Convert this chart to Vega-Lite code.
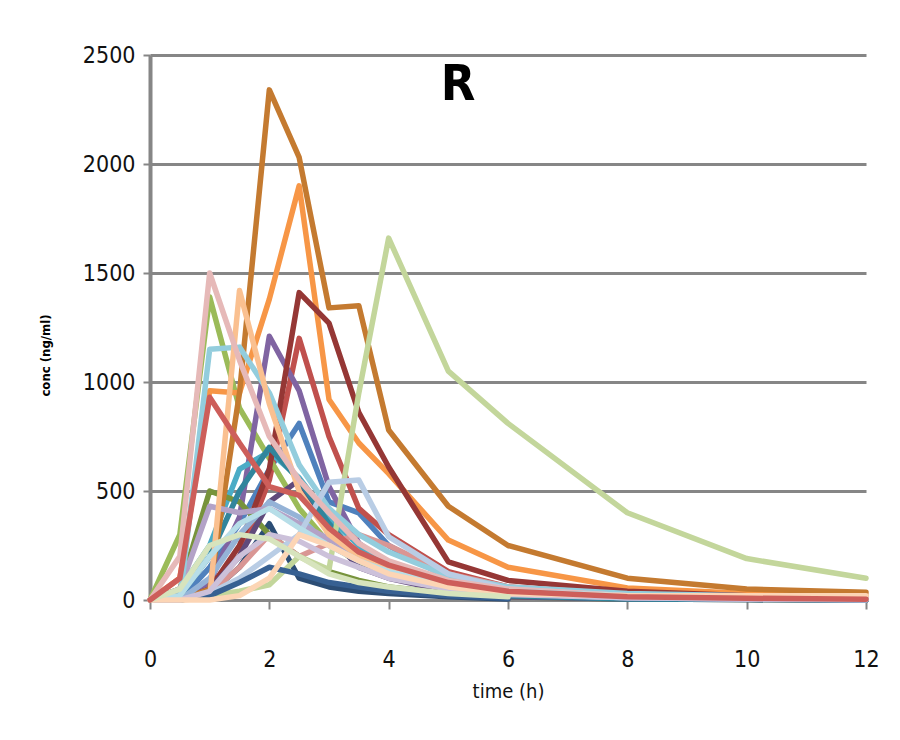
{
  "$schema": "https://vega.github.io/schema/vega-lite/v6.json",
  "width": 716,
  "height": 545,
  "autosize": {"type": "none"},
  "padding": {"left": 150, "top": 55, "right": 34, "bottom": 140},
  "background": "white",
  "title": {"text": "R", "fontSize": 50, "fontWeight": "bold", "font": "DejaVu Sans Condensed", "color": "#000000", "anchor": "middle", "dx": -50, "dy": 106, "offset": 0, "baseline": "alphabetic"},
  "config": {"view": {"stroke": null}},
  "data": {"values": [
{"s":"s01","t":0,"c":0},{"s":"s01","t":0.5,"c":0},{"s":"s01","t":1,"c":150},{"s":"s01","t":1.5,"c":350},{"s":"s01","t":2,"c":600},{"s":"s01","t":2.5,"c":810},{"s":"s01","t":3,"c":450},{"s":"s01","t":3.5,"c":400},{"s":"s01","t":4,"c":250},{"s":"s01","t":5,"c":100},{"s":"s01","t":6,"c":40},{"s":"s01","t":8,"c":15},{"s":"s01","t":10,"c":5},{"s":"s01","t":12,"c":0},
{"s":"s02","t":0,"c":0},{"s":"s02","t":0.5,"c":0},{"s":"s02","t":1,"c":50},{"s":"s02","t":1.5,"c":200},{"s":"s02","t":2,"c":550},{"s":"s02","t":2.5,"c":1200},{"s":"s02","t":3,"c":750},{"s":"s02","t":3.5,"c":420},{"s":"s02","t":4,"c":300},{"s":"s02","t":5,"c":130},{"s":"s02","t":6,"c":60},{"s":"s02","t":8,"c":20},{"s":"s02","t":10,"c":8},{"s":"s02","t":12,"c":4},
{"s":"s03","t":0,"c":0},{"s":"s03","t":0.5,"c":300},{"s":"s03","t":1,"c":1390},{"s":"s03","t":1.5,"c":880},{"s":"s03","t":2,"c":650},{"s":"s03","t":2.5,"c":420},{"s":"s03","t":3,"c":260},{"s":"s03","t":3.5,"c":170},{"s":"s03","t":4,"c":110},{"s":"s03","t":5,"c":50},{"s":"s03","t":6,"c":25},{"s":"s03","t":8,"c":10},{"s":"s03","t":10,"c":5},{"s":"s03","t":12,"c":2},
{"s":"s04","t":0,"c":0},{"s":"s04","t":0.5,"c":0},{"s":"s04","t":1,"c":80},{"s":"s04","t":1.5,"c":380},{"s":"s04","t":2,"c":1210},{"s":"s04","t":2.5,"c":960},{"s":"s04","t":3,"c":520},{"s":"s04","t":3.5,"c":260},{"s":"s04","t":4,"c":160},{"s":"s04","t":5,"c":70},{"s":"s04","t":6,"c":30},{"s":"s04","t":8,"c":10},{"s":"s04","t":10,"c":5},{"s":"s04","t":12,"c":2},
{"s":"s05","t":0,"c":0},{"s":"s05","t":0.5,"c":50},{"s":"s05","t":1,"c":250},{"s":"s05","t":1.5,"c":600},{"s":"s05","t":2,"c":680},{"s":"s05","t":2.5,"c":560},{"s":"s05","t":3,"c":380},{"s":"s05","t":3.5,"c":250},{"s":"s05","t":4,"c":150},{"s":"s05","t":5,"c":60},{"s":"s05","t":6,"c":25},{"s":"s05","t":8,"c":10},{"s":"s05","t":10,"c":5},{"s":"s05","t":12,"c":2},
{"s":"s06","t":0,"c":0},{"s":"s06","t":0.5,"c":100},{"s":"s06","t":1,"c":960},{"s":"s06","t":1.5,"c":950},{"s":"s06","t":2,"c":1380},{"s":"s06","t":2.5,"c":1900},{"s":"s06","t":3,"c":920},{"s":"s06","t":3.5,"c":720},{"s":"s06","t":4,"c":580},{"s":"s06","t":5,"c":275},{"s":"s06","t":6,"c":150},{"s":"s06","t":8,"c":55},{"s":"s06","t":10,"c":30},{"s":"s06","t":12,"c":20},
{"s":"s07","t":0,"c":0},{"s":"s07","t":0.5,"c":0},{"s":"s07","t":1,"c":30},{"s":"s07","t":1.5,"c":150},{"s":"s07","t":2,"c":350},{"s":"s07","t":2.5,"c":100},{"s":"s07","t":3,"c":60},{"s":"s07","t":3.5,"c":40},{"s":"s07","t":4,"c":30},{"s":"s07","t":5,"c":15},{"s":"s07","t":6,"c":5},
{"s":"s08","t":0,"c":0},{"s":"s08","t":0.5,"c":0},{"s":"s08","t":1,"c":50},{"s":"s08","t":1.5,"c":250},{"s":"s08","t":2,"c":600},{"s":"s08","t":2.5,"c":1410},{"s":"s08","t":3,"c":1270},{"s":"s08","t":3.5,"c":860},{"s":"s08","t":4,"c":610},{"s":"s08","t":5,"c":175},{"s":"s08","t":6,"c":90},{"s":"s08","t":8,"c":40},{"s":"s08","t":10,"c":20},{"s":"s08","t":12,"c":10},
{"s":"s09","t":0,"c":0},{"s":"s09","t":0.5,"c":50},{"s":"s09","t":1,"c":500},{"s":"s09","t":1.5,"c":450},{"s":"s09","t":2,"c":300},{"s":"s09","t":2.5,"c":200},{"s":"s09","t":3,"c":130},{"s":"s09","t":3.5,"c":90},{"s":"s09","t":4,"c":60},{"s":"s09","t":5,"c":30},{"s":"s09","t":6,"c":15},{"s":"s09","t":8,"c":5},{"s":"s09","t":10,"c":2},{"s":"s09","t":12,"c":0},
{"s":"s10","t":0,"c":0},{"s":"s10","t":0.5,"c":0},{"s":"s10","t":1,"c":50},{"s":"s10","t":1.5,"c":200},{"s":"s10","t":2,"c":450},{"s":"s10","t":2.5,"c":550},{"s":"s10","t":3,"c":300},{"s":"s10","t":3.5,"c":150},{"s":"s10","t":4,"c":100},{"s":"s10","t":5,"c":40},{"s":"s10","t":6,"c":15},{"s":"s10","t":8,"c":5},{"s":"s10","t":10,"c":2},{"s":"s10","t":12,"c":0},
{"s":"s11","t":0,"c":0},{"s":"s11","t":0.5,"c":20},{"s":"s11","t":1,"c":200},{"s":"s11","t":1.5,"c":500},{"s":"s11","t":2,"c":700},{"s":"s11","t":2.5,"c":550},{"s":"s11","t":3,"c":350},{"s":"s11","t":3.5,"c":200},{"s":"s11","t":4,"c":120},{"s":"s11","t":5,"c":50},{"s":"s11","t":6,"c":20},{"s":"s11","t":8,"c":5},{"s":"s11","t":10,"c":2},{"s":"s11","t":12,"c":0},
{"s":"s12","t":0,"c":0},{"s":"s12","t":0.5,"c":0},{"s":"s12","t":1,"c":50},{"s":"s12","t":1.5,"c":950},{"s":"s12","t":2,"c":2340},{"s":"s12","t":2.5,"c":2030},{"s":"s12","t":3,"c":1340},{"s":"s12","t":3.5,"c":1350},{"s":"s12","t":4,"c":780},{"s":"s12","t":5,"c":430},{"s":"s12","t":6,"c":250},{"s":"s12","t":8,"c":100},{"s":"s12","t":10,"c":50},{"s":"s12","t":12,"c":35},
{"s":"s13","t":0,"c":0},{"s":"s13","t":0.5,"c":0},{"s":"s13","t":1,"c":100},{"s":"s13","t":1.5,"c":300},{"s":"s13","t":2,"c":450},{"s":"s13","t":2.5,"c":380},{"s":"s13","t":3,"c":250},{"s":"s13","t":3.5,"c":180},{"s":"s13","t":4,"c":120},{"s":"s13","t":5,"c":60},{"s":"s13","t":6,"c":30},{"s":"s13","t":8,"c":10},{"s":"s13","t":10,"c":5},{"s":"s13","t":12,"c":0},
{"s":"s14","t":0,"c":0},{"s":"s14","t":0.5,"c":0},{"s":"s14","t":1,"c":30},{"s":"s14","t":1.5,"c":150},{"s":"s14","t":2,"c":300},{"s":"s14","t":2.5,"c":200},{"s":"s14","t":3,"c":260},{"s":"s14","t":3.5,"c":300},{"s":"s14","t":4,"c":250},{"s":"s14","t":5,"c":120},{"s":"s14","t":6,"c":60},{"s":"s14","t":8,"c":25},{"s":"s14","t":10,"c":10},{"s":"s14","t":12,"c":5},
{"s":"s15","t":0,"c":0},{"s":"s15","t":0.5,"c":0},{"s":"s15","t":1,"c":20},{"s":"s15","t":1.5,"c":40},{"s":"s15","t":2,"c":70},{"s":"s15","t":2.5,"c":200},{"s":"s15","t":3,"c":140},{"s":"s15","t":3.5,"c":950},{"s":"s15","t":4,"c":1660},{"s":"s15","t":5,"c":1050},{"s":"s15","t":6,"c":810},{"s":"s15","t":8,"c":400},{"s":"s15","t":10,"c":190},{"s":"s15","t":12,"c":100},
{"s":"s16","t":0,"c":0},{"s":"s16","t":0.5,"c":50},{"s":"s16","t":1,"c":430},{"s":"s16","t":1.5,"c":400},{"s":"s16","t":2,"c":420},{"s":"s16","t":2.5,"c":350},{"s":"s16","t":3,"c":280},{"s":"s16","t":3.5,"c":200},{"s":"s16","t":4,"c":130},{"s":"s16","t":5,"c":60},{"s":"s16","t":6,"c":30},{"s":"s16","t":8,"c":10},{"s":"s16","t":10,"c":5},{"s":"s16","t":12,"c":2},
{"s":"s17","t":0,"c":0},{"s":"s17","t":0.5,"c":0},{"s":"s17","t":1,"c":1150},{"s":"s17","t":1.5,"c":1160},{"s":"s17","t":2,"c":950},{"s":"s17","t":2.5,"c":620},{"s":"s17","t":3,"c":420},{"s":"s17","t":3.5,"c":300},{"s":"s17","t":4,"c":220},{"s":"s17","t":5,"c":110},{"s":"s17","t":6,"c":60},{"s":"s17","t":8,"c":30},{"s":"s17","t":10,"c":20},{"s":"s17","t":12,"c":10},
{"s":"s18","t":0,"c":0},{"s":"s18","t":0.5,"c":0},{"s":"s18","t":1,"c":10},{"s":"s18","t":1.5,"c":1420},{"s":"s18","t":2,"c":900},{"s":"s18","t":2.5,"c":500},{"s":"s18","t":3,"c":300},{"s":"s18","t":3.5,"c":200},{"s":"s18","t":4,"c":150},{"s":"s18","t":5,"c":70},{"s":"s18","t":6,"c":35},{"s":"s18","t":8,"c":20},{"s":"s18","t":10,"c":15},{"s":"s18","t":12,"c":15},
{"s":"s19","t":0,"c":0},{"s":"s19","t":0.5,"c":0},{"s":"s19","t":1,"c":30},{"s":"s19","t":1.5,"c":100},{"s":"s19","t":2,"c":200},{"s":"s19","t":2.5,"c":300},{"s":"s19","t":3,"c":540},{"s":"s19","t":3.5,"c":550},{"s":"s19","t":4,"c":290},{"s":"s19","t":5,"c":120},{"s":"s19","t":6,"c":50},{"s":"s19","t":8,"c":20},{"s":"s19","t":10,"c":10},{"s":"s19","t":12,"c":5},
{"s":"s20","t":0,"c":0},{"s":"s20","t":0.5,"c":200},{"s":"s20","t":1,"c":1500},{"s":"s20","t":1.5,"c":1100},{"s":"s20","t":2,"c":750},{"s":"s20","t":2.5,"c":550},{"s":"s20","t":3,"c":400},{"s":"s20","t":3.5,"c":260},{"s":"s20","t":4,"c":180},{"s":"s20","t":5,"c":90},{"s":"s20","t":6,"c":50},{"s":"s20","t":8,"c":20},{"s":"s20","t":10,"c":10},{"s":"s20","t":12,"c":5},
{"s":"s21","t":0,"c":0},{"s":"s21","t":0.5,"c":0},{"s":"s21","t":1,"c":20},{"s":"s21","t":1.5,"c":80},{"s":"s21","t":2,"c":150},{"s":"s21","t":2.5,"c":120},{"s":"s21","t":3,"c":80},{"s":"s21","t":3.5,"c":60},{"s":"s21","t":4,"c":40},{"s":"s21","t":5,"c":20},{"s":"s21","t":6,"c":8},
{"s":"s22","t":0,"c":0},{"s":"s22","t":0.5,"c":0},{"s":"s22","t":1,"c":40},{"s":"s22","t":1.5,"c":200},{"s":"s22","t":2,"c":300},{"s":"s22","t":2.5,"c":270},{"s":"s22","t":3,"c":200},{"s":"s22","t":3.5,"c":150},{"s":"s22","t":4,"c":100},{"s":"s22","t":5,"c":50},{"s":"s22","t":6,"c":25},{"s":"s22","t":8,"c":10},{"s":"s22","t":10,"c":5},{"s":"s22","t":12,"c":2},
{"s":"s23","t":0,"c":0},{"s":"s23","t":0.5,"c":20},{"s":"s23","t":1,"c":200},{"s":"s23","t":1.5,"c":350},{"s":"s23","t":2,"c":420},{"s":"s23","t":2.5,"c":330},{"s":"s23","t":3,"c":250},{"s":"s23","t":3.5,"c":180},{"s":"s23","t":4,"c":130},{"s":"s23","t":5,"c":70},{"s":"s23","t":6,"c":40},{"s":"s23","t":8,"c":20},{"s":"s23","t":10,"c":10},{"s":"s23","t":12,"c":5},
{"s":"s24","t":0,"c":0},{"s":"s24","t":0.5,"c":0},{"s":"s24","t":1,"c":0},{"s":"s24","t":1.5,"c":20},{"s":"s24","t":2,"c":100},{"s":"s24","t":2.5,"c":300},{"s":"s24","t":3,"c":250},{"s":"s24","t":3.5,"c":180},{"s":"s24","t":4,"c":120},{"s":"s24","t":5,"c":60},{"s":"s24","t":6,"c":30},{"s":"s24","t":8,"c":20},{"s":"s24","t":10,"c":20},{"s":"s24","t":12,"c":20},
{"s":"s25","t":0,"c":0},{"s":"s25","t":0.5,"c":50},{"s":"s25","t":1,"c":250},{"s":"s25","t":1.5,"c":300},{"s":"s25","t":2,"c":280},{"s":"s25","t":2.5,"c":200},{"s":"s25","t":3,"c":120},{"s":"s25","t":3.5,"c":80},{"s":"s25","t":4,"c":60},{"s":"s25","t":5,"c":30},{"s":"s25","t":6,"c":15},
{"s":"s26","t":0,"c":0},{"s":"s26","t":0.5,"c":100},{"s":"s26","t":1,"c":930},{"s":"s26","t":1.5,"c":720},{"s":"s26","t":2,"c":520},{"s":"s26","t":2.5,"c":480},{"s":"s26","t":3,"c":330},{"s":"s26","t":3.5,"c":220},{"s":"s26","t":4,"c":160},{"s":"s26","t":5,"c":80},{"s":"s26","t":6,"c":40},{"s":"s26","t":8,"c":15},{"s":"s26","t":10,"c":8},{"s":"s26","t":12,"c":4}
  ]},
  "mark": {"type": "line", "strokeWidth": 5.5, "strokeJoin": "round", "strokeCap": "round", "clip": false},
  "encoding": {
    "x": {"field": "t", "type": "quantitative",
      "scale": {"domain": [0, 12], "nice": false, "zero": true},
      "axis": {"values": [0, 2, 4, 6, 8, 10, 12], "grid": false, "title": "time (h)", "format": "d",
        "domainColor": "#868686", "domainWidth": 3, "tickColor": "#868686", "tickWidth": 2, "tickSize": 9,
        "labelFont": "DejaVu Sans Condensed", "labelFontSize": 23, "labelColor": "#111111", "labelPadding": 39,
        "labelFlush": false,
        "titleFont": "DejaVu Sans Condensed", "titleFontSize": 20, "titleFontWeight": "normal", "titleColor": "#111111", "titlePadding": 10}},
    "y": {"field": "c", "type": "quantitative",
      "scale": {"domain": [0, 2500], "nice": false},
      "axis": {"values": [0, 500, 1000, 1500, 2000, 2500], "grid": true, "gridColor": "#868686", "gridWidth": 3, "format": "d",
        "domainColor": "#868686", "domainWidth": 4, "tickColor": "#868686", "tickWidth": 2, "tickSize": 7,
        "labelFont": "DejaVu Sans Condensed", "labelFontSize": 23, "labelColor": "#111111", "labelPadding": 8,
        "title": "conc (ng/ml)", "titleFont": "DejaVu Sans Condensed", "titleFontSize": 13, "titleFontWeight": "bold", "titleColor": "#000000",
        "titleX": -98, "titleY": 300}},
    "color": {"field": "s", "type": "nominal", "legend": null,
      "scale": {
        "domain": ["s01","s02","s03","s04","s05","s06","s07","s08","s09","s10","s11","s12","s13","s14","s15","s16","s17","s18","s19","s20","s21","s22","s23","s24","s25","s26"],
        "range": ["#4F81BD","#C0504D","#9BBB59","#8064A2","#4BACC6","#F79646","#2C4D75","#953735","#77933C","#604A7B","#31859C","#C47A30","#95B3D7","#D99694","#C3D69B","#B3A2C7","#93CDDD","#FAC090","#B9CDE5","#E6B9B8","#376092","#CCC1DA","#B7DEE8","#FCD5B5","#D7E4BD","#CD5E5A"]}}
  }
}
